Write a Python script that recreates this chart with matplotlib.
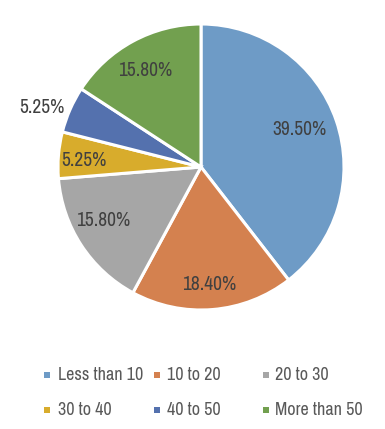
import numpy as np
import matplotlib
matplotlib.use("Agg")
import matplotlib.pyplot as plt
from matplotlib.patches import Rectangle
from matplotlib import font_manager

categories = ["Less than 10", "10 to 20", "20 to 30", "30 to 40", "40 to 50", "More than 50"]
values = [39.50, 18.40, 15.80, 5.25, 5.25, 15.80]
labels = ["39.50%", "18.40%", "15.80%", "5.25%", "5.25%", "15.80%"]
colors = ["#6e9bc6", "#d4814f", "#a6a6a6", "#d8ac2c", "#5471ae", "#72a04f"]

names = {f.name for f in font_manager.fontManager.ttflist}
fam, stretch = "DejaVu Sans", "condensed"
for cand in ["Liberation Sans Narrow", "Archivo Narrow"]:
    if cand in names:
        fam, stretch = cand, "normal"
        break

W, H = 385, 429
fig = plt.figure(figsize=(W / 100, H / 100), dpi=100)
fig.patch.set_facecolor("white")

cx, cy, R = 201, 167, 143
ax = fig.add_axes([(cx - R) / W, 1 - (cy + R) / H, 2 * R / W, 2 * R / H])
wedges, _ = ax.pie(values, colors=colors, startangle=90, counterclock=False,
                   wedgeprops=dict(edgecolor="white", linewidth=2.2))
ax.set_xlim(-1, 1)
ax.set_ylim(-1, 1)
ax.set_aspect("equal")
ax.axis("off")

# label placement (radius, angle offset in deg)
place = [(0.74, 1.8), (0.823, -0.8), (0.779, -4.7), (0.82, 1.4), (1.19, 3.2), (0.78, 1.7)]
for w, lab, (r, off) in zip(wedges, labels, place):
    th = np.deg2rad((w.theta1 + w.theta2) / 2 + off)
    ax.text(r * np.cos(th), r * np.sin(th), lab, ha="center", va="center",
            fontsize=14, color="#404040", family=fam, stretch=stretch)

# legend
rows = [375, 410]
cols = [(47, 58), (157, 167), (266, 275)]
for i, (cat, col) in enumerate(zip(categories, colors)):
    r, c = divmod(i, 3)
    y = rows[r]
    mx, tx = cols[c]
    s = 6
    fig.patches.append(Rectangle(((mx - s / 2) / W, 1 - (y + s / 2) / H), s / W, s / H,
                                 transform=fig.transFigure, facecolor=col, edgecolor="none"))
    fig.text(tx / W, 1 - y / H, cat, ha="left", va="center", fontsize=13,
             color="#595959", family=fam, stretch=stretch)

fig.savefig("out.png", dpi=100, facecolor="white")
